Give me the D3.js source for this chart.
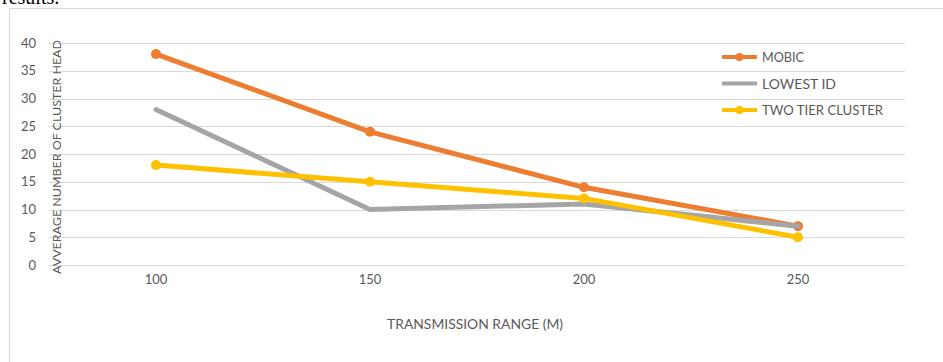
<!DOCTYPE html>
<html><head><meta charset="utf-8">
<script src="https://cdn.jsdelivr.net/npm/d3@7/dist/d3.min.js"></script>
<style>body{margin:0;background:#fff;}svg{display:block;}</style>
</head><body>
<svg id="c" width="943" height="362"></svg>
<script>
const categories = ["100","150","200","250"];
const mobic = [38,24,14,7];
const lowestId = [28,10,11,7];
const twoTier = [18,15,12,5];
const yTicks = [0,5,10,15,20,25,30,35,40];
const seriesNames = ["MOBIC","LOWEST ID","TWO TIER CLUSTER"];

const series = [
  {name: seriesNames[0], values: mobic, color: "#ED7D31", marker: true},
  {name: seriesNames[1], values: lowestId, color: "#A5A5A5", marker: false},
  {name: seriesNames[2], values: twoTier, color: "#FFC000", marker: true}
];

const svg = d3.select("#c");
const font = "Lato, Open Sans, sans-serif";
const txt = "#595959";

// caption fragment above
svg.append("text").attr("x",2).attr("y",4).attr("font-family","Liberation Serif, serif")
  .attr("font-size",20).attr("fill","#000").text("results.");

// chart border
svg.append("path").attr("d","M9.5,362 L9.5,8.5 L943,8.5").attr("fill","none").attr("stroke","#d9d9d9").attr("stroke-width",1);

const x = d3.scaleBand().domain(categories).range([49,905]);
const y = d3.scaleLinear().domain([0,40]).range([265,43]);

// gridlines
svg.append("g").selectAll("line").data(yTicks).join("line")
  .attr("x1",49).attr("x2",905).attr("y1",d=>Math.round(y(d))+0.5).attr("y2",d=>Math.round(y(d))+0.5)
  .attr("stroke","#d9d9d9").attr("stroke-width",1);

// y axis labels
const yAxis = d3.axisLeft(y).tickValues(yTicks).tickSize(0).tickPadding(0);
const gy = svg.append("g").attr("transform","translate(36,0)").call(yAxis);
gy.select(".domain").remove();
gy.selectAll("text").attr("font-family",font).attr("font-size",13).attr("fill",txt);

// x axis labels
const xAxis = d3.axisBottom(x).tickSize(0).tickPadding(0);
const gx = svg.append("g").attr("transform","translate(0,275)").call(xAxis);
gx.select(".domain").remove();
gx.selectAll("text").attr("font-family",font).attr("font-size",13).attr("fill",txt);

// axis titles
svg.append("text").attr("transform","translate(61,157) rotate(-90)").attr("text-anchor","middle")
  .attr("font-family",font).attr("font-size",12).attr("fill",txt)
  .attr("textLength",234).attr("lengthAdjust","spacingAndGlyphs").text("AVVERAGE NUMBER OF CLUSTER HEAD");
svg.append("text").attr("x",475).attr("y",329).attr("text-anchor","middle")
  .attr("font-family",font).attr("font-size",13.5).attr("fill",txt)
  .attr("textLength",176).attr("lengthAdjust","spacingAndGlyphs").text("TRANSMISSION RANGE (M)");

const line = d3.line().x((d,i)=>x(categories[i])+x.bandwidth()/2).y(d=>y(d));

series.forEach(s=>{
  svg.append("path").datum(s.values).attr("d",line).attr("fill","none")
    .attr("stroke",s.color).attr("stroke-width",5).attr("stroke-linejoin","round").attr("stroke-linecap","round");
  if(s.marker){
    svg.append("g").selectAll("circle").data(s.values).join("circle")
      .attr("cx",(d,i)=>x(categories[i])+x.bandwidth()/2).attr("cy",d=>y(d)).attr("r",5)
      .attr("fill",s.color);
  }
});

// legend
const lg = svg.append("g");
const lgW = [42, 74, 121];
series.forEach((s,i)=>{
  const ly = 57 + i*26.5;
  lg.append("line").attr("x1",722).attr("x2",757).attr("y1",ly).attr("y2",ly)
    .attr("stroke",s.color).attr("stroke-width",4);
  if(s.marker) lg.append("circle").attr("cx",739.5).attr("cy",ly).attr("r",4).attr("fill",s.color);
  lg.append("text").attr("x",762).attr("y",ly+5).attr("font-family",font).attr("font-size",13)
    .attr("fill",txt).attr("textLength",lgW[i]).attr("lengthAdjust","spacingAndGlyphs").text(s.name);
});
</script>
</body></html>
